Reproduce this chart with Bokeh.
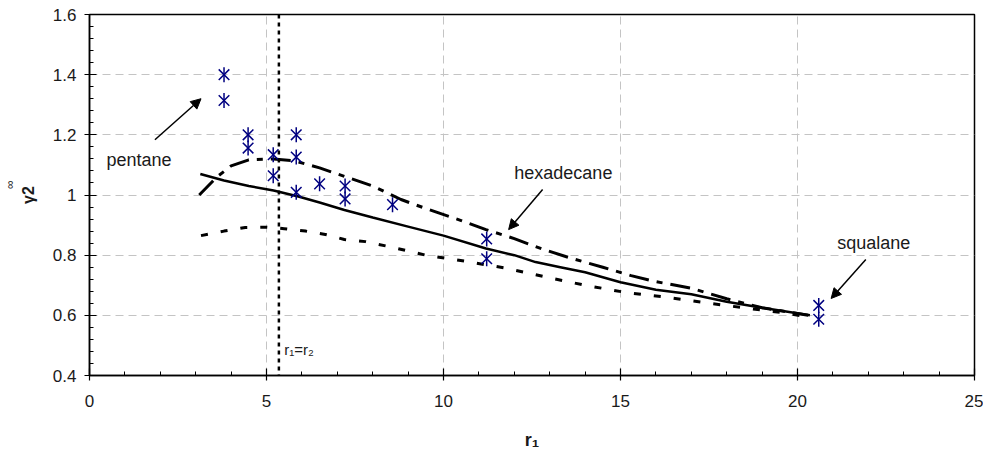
import math
from bokeh.plotting import figure
from bokeh.models import (Range1d, SingleIntervalTicker, CustomJSTickFormatter,
                          Label, Arrow, NormalHead, Span, Title)
from bokeh.embed import file_html
from bokeh.resources import INLINE

# ---- data ----
# experimental points
exp_r1 = [3.80, 3.80, 4.48, 4.48, 5.19, 5.19, 5.84, 5.84, 5.84, 6.50, 7.22, 7.22,
          8.56, 11.22, 11.22, 20.6, 20.6]
exp_gamma = [1.40, 1.314, 1.20, 1.156, 1.134, 1.064, 1.20, 1.126, 1.009, 1.037, 1.03, 0.987,
             0.968, 0.854, 0.788, 0.633, 0.587]

# model curve (solid)
solid_r1 = [3.13, 3.8, 4.5, 5.2, 5.9, 6.5, 7.2, 8.0, 9.0, 10.0, 11.2, 12.0, 12.6, 13.3,
            14.0, 15.0, 16.0, 17.0, 18.0, 19.0, 20.35]
solid_gamma = [1.07, 1.048, 1.03, 1.015, 0.995, 0.975, 0.95, 0.925, 0.895, 0.865, 0.822,
               0.80, 0.777, 0.76, 0.743, 0.71, 0.685, 0.67, 0.645, 0.625, 0.60]

# model curve (dash-dot)
dd_r1 = [3.1, 3.58, 4.0, 4.5, 5.2, 5.8, 6.5, 7.2, 8.0, 8.8, 9.5, 10.5, 11.2, 12.0, 12.8,
         13.6, 14.5, 15.3, 16.0, 17.0, 18.0, 19.0, 20.3]
dd_gamma = [1.0, 1.058, 1.097, 1.117, 1.12, 1.113, 1.09, 1.062, 1.03, 0.985, 0.955, 0.915,
            0.885, 0.855, 0.82, 0.79, 0.76, 0.732, 0.712, 0.69, 0.655, 0.625, 0.60]

# model curve (short dashes)
dot_r1 = [3.15, 3.8, 4.4, 5.0, 5.5, 6.1, 6.7, 7.2, 7.8, 8.6, 9.5, 10.6, 11.8, 12.9, 14.0,
          15.2, 16.3, 17.5, 18.5, 19.5, 20.3]
dot_gamma = [0.865, 0.88, 0.892, 0.893, 0.888, 0.88, 0.868, 0.852, 0.845, 0.825, 0.80, 0.78,
             0.756, 0.727, 0.70, 0.675, 0.66, 0.64, 0.625, 0.61, 0.595]

r_equal = 5.35  # r1 = r2

FONT = "Liberation Sans"
TXT = "#1a1a1a"

p = figure(width=983, height=453, x_range=Range1d(0, 25), y_range=Range1d(0.4, 1.6),
           output_backend="svg", toolbar_location=None,
           min_border_left=85, min_border_right=9, min_border_top=14, min_border_bottom=78,
           background_fill_color="white", border_fill_color="white")

p.outline_line_color = "black"
p.outline_line_width = 1.5

p.xaxis.ticker = SingleIntervalTicker(interval=5, num_minor_ticks=5)
p.yaxis.ticker = SingleIntervalTicker(interval=0.2, num_minor_ticks=5)
fmt = "return parseFloat(tick.toFixed(2)).toString();"
p.yaxis.formatter = CustomJSTickFormatter(code=fmt)
p.xaxis.formatter = CustomJSTickFormatter(code=fmt)

for ax in (p.xaxis, p.yaxis):
    ax.axis_line_color = "black"
    ax.axis_line_width = 1.5
    ax.major_tick_line_color = "black"
    ax.major_tick_line_width = 1.2
    ax.minor_tick_line_color = "black"
    ax.minor_tick_line_width = 1
    ax.major_tick_in = 7
    ax.major_tick_out = 5
    ax.minor_tick_in = 4
    ax.minor_tick_out = 0
    ax.major_label_text_font = FONT
    ax.major_label_text_font_size = "17px"
    ax.major_label_text_color = TXT
    ax.axis_label_text_font = FONT
    ax.axis_label_text_font_style = "bold"
    ax.axis_label_text_color = TXT

p.xaxis.major_label_standoff = 14
p.yaxis.major_label_standoff = 8

p.xaxis.axis_label = "r₁"
p.xaxis.axis_label_text_font_size = "18px"
p.xaxis.axis_label_standoff = 20
p.yaxis.axis_label = "γ2"
p.yaxis.axis_label_text_font_size = "16px"
p.yaxis.axis_label_standoff = 13

# superscript infinity of the y label
p.add_layout(Title(text="∞", text_font=FONT, text_font_size="12px", text_font_style="normal",
                   text_color=TXT, align="right", offset=166, standoff=0), "left")

p.xgrid.grid_line_color = "#c4c4c4"
p.ygrid.grid_line_color = "#c4c4c4"
p.xgrid.grid_line_dash = "8 5"
p.ygrid.grid_line_dash = "8 5"
p.xgrid.grid_line_width = 1
p.ygrid.grid_line_width = 1

# vertical r1 = r2 line
p.add_layout(Span(location=r_equal, dimension="height", line_color="black",
                  line_width=2.5, line_dash="4 4"))

# model curves
p.line(dot_r1, dot_gamma, line_color="black", line_width=3, line_dash="7 13")
p.line(dd_r1, dd_gamma, line_color="black", line_width=3, line_dash="20 8 6 8")
p.line(solid_r1, solid_gamma, line_color="black", line_width=2.5)

# experimental points: vertical bar + X
p.scatter(exp_r1, exp_gamma, marker="x", size=15, line_color="#000080", line_width=1.5)
p.scatter(exp_r1, exp_gamma, marker="dash", size=15, angle=math.pi / 2,
          line_color="#000080", line_width=1.5)

# annotations
def add_text(x, y, t, size="18px"):
    p.add_layout(Label(x=x, y=y, text=t, text_font=FONT, text_font_size=size,
                       text_baseline="middle", text_align="left", text_color=TXT))

def add_arrow(x0, y0, x1, y1):
    p.add_layout(Arrow(end=NormalHead(size=10, fill_color="black", line_color="black"),
                       x_start=x0, y_start=y0, x_end=x1, y_end=y1,
                       line_color="black", line_width=1.5))

add_text(0.478, 1.115, "pentane")
add_arrow(1.848, 1.1835, 3.15, 1.32)
add_text(12.0, 1.0725, "hexadecane")
add_arrow(12.80, 1.018, 11.84, 0.885)
add_text(21.12, 0.839, "squalane")
add_arrow(21.93, 0.7856, 20.95, 0.656)
add_text(5.5, 0.487, "r₁=r₂", size="15px")

open("out.html", "w").write(file_html(p, INLINE))
